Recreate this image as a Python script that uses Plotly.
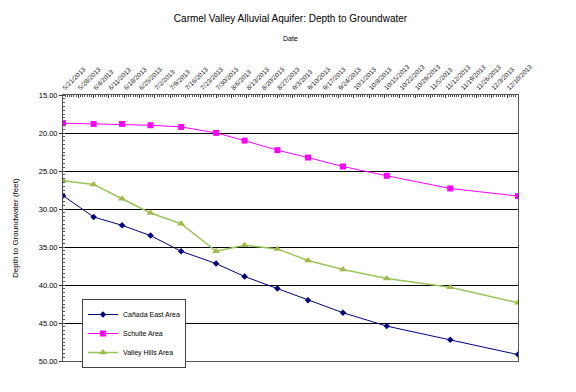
import plotly.graph_objects as go

dates = ["2013-05-21", "2013-06-04", "2013-06-17", "2013-06-30", "2013-07-14",
         "2013-07-30", "2013-08-12", "2013-08-27", "2013-09-10", "2013-09-26",
         "2013-10-16", "2013-11-14", "2013-12-15"]
canada_east = [28.25, 31.05, 32.15, 33.5, 35.56, 37.18, 38.88, 40.46, 42.0,
               43.65, 45.41, 47.19, 49.16]
schulte = [18.71, 18.81, 18.81, 18.98, 19.2, 19.99, 21.0, 22.26, 23.23,
           24.41, 25.63, 27.3, 28.3]
valley_hills = [26.29, 26.77, 28.65, 30.52, 31.93, 35.56, 34.78, 35.25, 36.78,
                37.97, 39.15, 40.29, 42.34]

FONT = "Arial, Liberation Sans, sans-serif"
W, H = 576, 392
L, R, T, B = 63, 58, 95, 31
PW, PH = W - L - R, H - T - B


def px_x(x):
    return (x - L) / PW


def px_y(y):
    return (H - B - y) / PH


fig = go.Figure()
fig.add_trace(go.Scatter(x=dates, y=canada_east, name="Cañada East Area",
                         mode="lines+markers",
                         line=dict(color="#000080", width=1),
                         marker=dict(symbol="diamond", size=5, color="#000080")))
fig.add_trace(go.Scatter(x=dates, y=schulte, name="Schulte Area",
                         mode="lines+markers",
                         line=dict(color="#FF00FF", width=1),
                         marker=dict(symbol="square", size=6, color="#FF00FF")))
fig.add_trace(go.Scatter(x=dates, y=valley_hills, name="Valley Hills Area",
                         mode="lines+markers",
                         line=dict(color="#99C45A", width=1.5),
                         marker=dict(symbol="triangle-up", size=7, color="#A3B84C")))

fig.update_layout(
    width=W, height=H,
    margin=dict(l=L, r=R, t=T, b=B, autoexpand=False),
    paper_bgcolor="white", plot_bgcolor="white",
    font=dict(family=FONT, size=8, color="black"),
    title=dict(text="Carmel Valley Alluvial Aquifer: Depth to Groundwater",
               x=0.5, xanchor="center", y=1 - 18 / H, yanchor="middle",
               xref="paper", yref="container",
               font=dict(size=10, family=FONT)),
    showlegend=True,
    legend=dict(x=px_x(82), y=px_y(299),
                xanchor="left", yanchor="top",
                bgcolor="white", bordercolor="#444", borderwidth=1,
                font=dict(size=7, family=FONT), tracegroupgap=0,
                itemwidth=30),
    annotations=[
        dict(text="Date", x=0.5, xref="paper", y=px_y(38), yref="paper",
             xanchor="center", yanchor="middle", showarrow=False,
             font=dict(size=7, family=FONT)),
        dict(text="Depth to Groundwater (feet)", x=px_x(15), xref="paper",
             y=0.5, yref="paper", xanchor="center", yanchor="middle",
             textangle=-90, showarrow=False, font=dict(size=8, family=FONT)),
    ],
)

fig.update_xaxes(
    side="top", type="date", automargin=False,
    range=["2013-05-21", "2013-12-15"],
    dtick=7 * 24 * 3600 * 1000, tick0="2013-05-21",
    tickformat="%-m/%-d/%Y", tickangle=-45,
    tickfont=dict(size=6.5, family=FONT, color="#222"),
    showgrid=False, zeroline=False,
    showline=True, linecolor="#555", linewidth=1, mirror=True,
    ticks="inside", ticklen=3, tickcolor="#333",
    minor=dict(dtick=24 * 3600 * 1000, ticks="inside", ticklen=2, tickcolor="#555"),
)

fig.update_yaxes(
    range=[50, 15], dtick=5, tickformat=".2f", automargin=False,
    tickfont=dict(size=7.5, family=FONT),
    showgrid=True, gridcolor="black", gridwidth=1, zeroline=False,
    showline=True, linecolor="#555", linewidth=1, mirror=True,
    ticks="outside", ticklen=3, tickcolor="#333",
    minor=dict(dtick=0.5, ticks="inside", ticklen=2, tickcolor="#555"),
)

fig.write_html("out.html", config={"displayModeBar": False},
               post_script="document.body.style.margin='0';")
